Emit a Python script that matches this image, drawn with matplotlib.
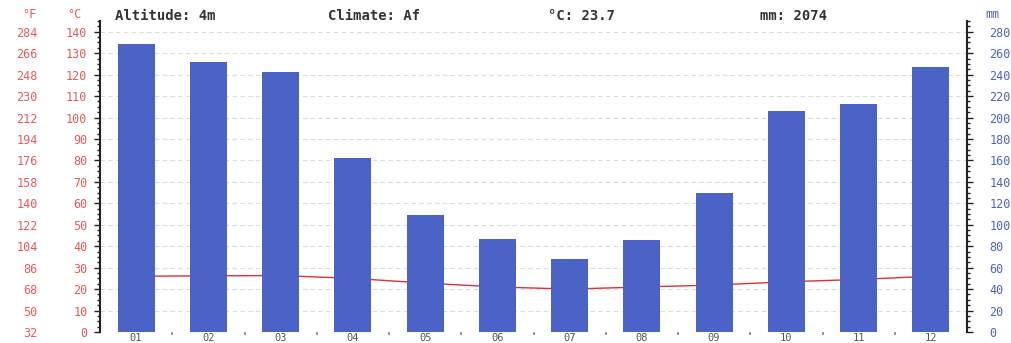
import matplotlib
matplotlib.use("Agg")
import matplotlib.pyplot as plt
from matplotlib.ticker import MultipleLocator, FixedLocator

months = ["01", "02", "03", "04", "05", "06", "07", "08", "09", "10", "11", "12"]
precip_mm = [269, 252, 242, 162, 109, 87, 68, 86, 130, 206, 213, 247]
temp_c = [26.0, 26.2, 26.3, 25.0, 22.8, 21.0, 20.0, 21.0, 21.9, 23.4, 24.5, 26.0]
c_ticks = [0, 10, 20, 30, 40, 50, 60, 70, 80, 90, 100, 110, 120, 130, 140]
f_ticks = [32, 50, 68, 86, 104, 122, 140, 158, 176, 194, 212, 230, 248, 266, 284]
mm_ticks = [0, 20, 40, 60, 80, 100, 120, 140, 160, 180, 200, 220, 240, 260, 280]

RED = "#e85a5a"
BLUE = "#4e63c9"
BAR = "#4b63c6"
TXT = "#333333"
MONO = "DejaVu Sans Mono"

W, H = 1011, 343
fig = plt.figure(figsize=(W / 100, H / 100), dpi=100)
left, right, top, bottom = 100, 967, 21, 332
ax = fig.add_axes([left / W, 1 - bottom / H, (right - left) / W, (bottom - top) / H])
ax2 = ax.twinx()

x = list(range(len(months)))
ax.plot(x, temp_c, color="#e03030", lw=1.0, zorder=2)
ax.set_ylim(0, 145)
ax.set_xlim(-0.5, 11.5)
ax2.set_ylim(0, 290)
ax2.bar(x, precip_mm, width=0.51, color=BAR, zorder=3)

# grid
ax.yaxis.set_major_locator(FixedLocator(c_ticks))
ax.grid(axis="y", color="#dcdcdc", lw=0.8, linestyle=(0, (4, 3)))
ax.set_axisbelow(True)

# spines
for s in ["top", "bottom", "right"]:
    ax.spines[s].set_visible(False)
for s in ["top", "bottom", "left"]:
    ax2.spines[s].set_visible(False)
ax.spines["left"].set_color("#222222")
ax.spines["left"].set_linewidth(1.5)
ax2.spines["right"].set_color("#222222")
ax2.spines["right"].set_linewidth(1.5)

# left °C ticks
ax.yaxis.set_minor_locator(MultipleLocator(2.5))
ax.tick_params(axis="y", which="major", length=4, width=1, color="#222222",
               labelcolor=RED, labelsize=8.5, pad=5)
ax.tick_params(axis="y", which="minor", length=2.5, width=1, color="#222222")
ax.set_yticklabels([str(v) for v in c_ticks], fontfamily=MONO)

# right mm ticks
ax2.yaxis.set_major_locator(FixedLocator(mm_ticks))
ax2.yaxis.set_minor_locator(MultipleLocator(5))
ax2.tick_params(axis="y", which="major", length=4, width=1, color="#222222",
                labelcolor=BLUE, labelsize=8.5, pad=12)
ax2.tick_params(axis="y", which="minor", length=2.5, width=1, color="#222222")
ax2.set_yticklabels([str(v) for v in mm_ticks], fontfamily=MONO)

# °F secondary axis
sec = ax.secondary_yaxis(-0.072, functions=(lambda c: c * 1.8 + 32, lambda f: (f - 32) / 1.8))
sec.yaxis.set_major_locator(FixedLocator(f_ticks))
sec.spines["left"].set_visible(False)
sec.tick_params(axis="y", length=0, labelcolor=RED, labelsize=8.5, pad=0)
sec.yaxis.set_minor_locator(FixedLocator([]))
sec.set_yticklabels([str(v) for v in f_ticks], fontfamily=MONO)

# x axis
ax.set_xticks(x)
ax.set_xticklabels(months, fontfamily=MONO, fontsize=7.5, color="#555555")
ax.xaxis.set_minor_locator(FixedLocator([i + 0.5 for i in range(11)]))
ax.tick_params(axis="x", which="major", length=0, pad=0.5)
ax.tick_params(axis="x", which="minor", length=2, width=1.2, color="#888888")
ax2.tick_params(axis="x", length=0)

# header texts
def ftxt(px, py, s, color, **kw):
    fig.text(px / W, 1 - py / H, s, color=color, fontfamily=MONO, va="center", **kw)

ftxt(22, 15, "°F", RED, fontsize=8.5)
ftxt(67, 15, "°C", RED, fontsize=8.5)
ftxt(985, 15, "mm", BLUE, fontsize=8.5)
ftxt(115, 16, "Altitude: 4m", TXT, fontsize=10, fontweight="bold")
ftxt(328, 16, "Climate: Af", TXT, fontsize=10, fontweight="bold")
ftxt(548, 16, "°C: 23.7", TXT, fontsize=10, fontweight="bold")
ftxt(760, 16, "mm: 2074", TXT, fontsize=10, fontweight="bold")

fig.savefig("out.png", dpi=100)
